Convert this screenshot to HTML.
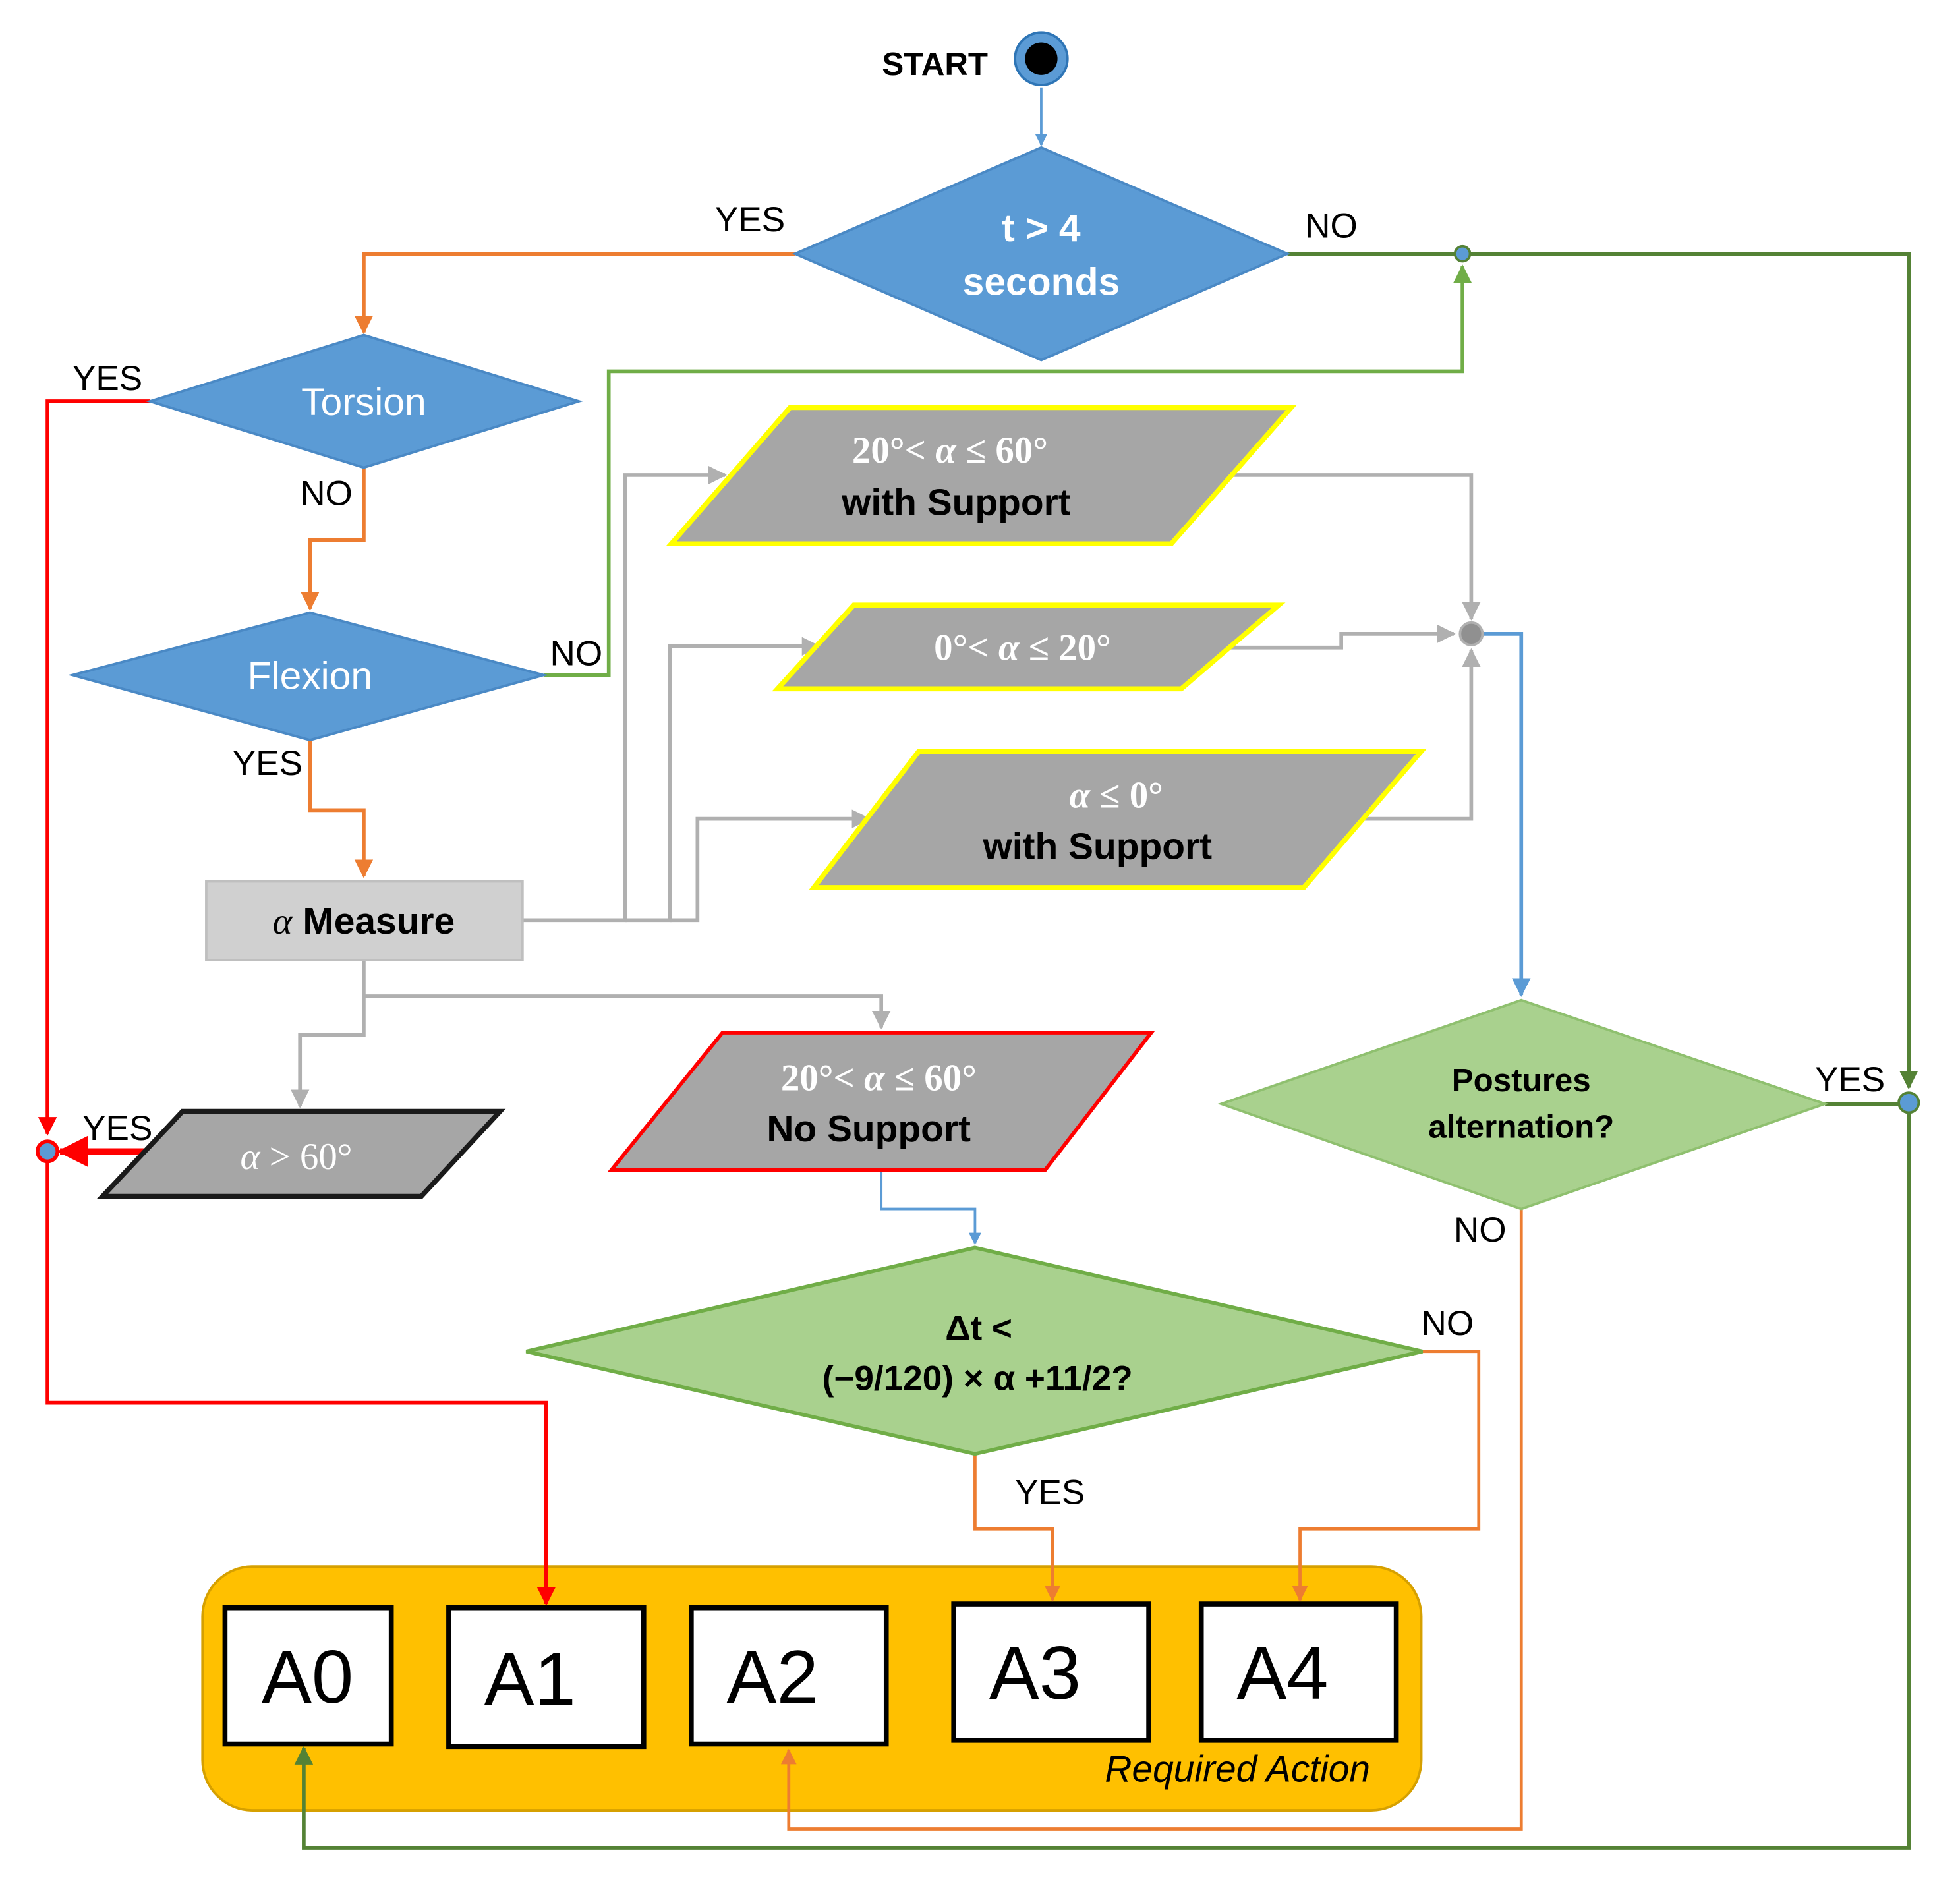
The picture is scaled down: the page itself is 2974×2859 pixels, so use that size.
<!DOCTYPE html>
<html><head><meta charset="utf-8"><style>html,body{margin:0;padding:0;background:#fff}svg{display:block}</style></head><body>
<svg width="2974" height="2859" viewBox="0 0 1568 1507" preserveAspectRatio="none" xmlns="http://www.w3.org/2000/svg" font-family="Liberation Sans, Arial, sans-serif">
<defs>
<marker id="ab" viewBox="0 0 10 10" refX="9" refY="5" markerWidth="5" markerHeight="5" orient="auto-start-reverse"><path d="M0,0L10,5L0,10z" fill="#5b9bd5"/></marker>
<marker id="ao" viewBox="0 0 10 10" refX="9" refY="5" markerWidth="5" markerHeight="5" orient="auto"><path d="M0,0L10,5L0,10z" fill="#ed7d31"/></marker>
<marker id="ag" viewBox="0 0 10 10" refX="9" refY="5" markerWidth="5" markerHeight="5" orient="auto"><path d="M0,0L10,5L0,10z" fill="#70ad47"/></marker>
<marker id="adg" viewBox="0 0 10 10" refX="9" refY="5" markerWidth="5" markerHeight="5" orient="auto"><path d="M0,0L10,5L0,10z" fill="#548235"/></marker>
<marker id="ar" viewBox="0 0 10 10" refX="9" refY="5" markerWidth="5" markerHeight="5" orient="auto"><path d="M0,0L10,5L0,10z" fill="#ff0000"/></marker>
<marker id="agr" viewBox="0 0 10 10" refX="9" refY="5" markerWidth="5" markerHeight="5" orient="auto"><path d="M0,0L10,5L0,10z" fill="#b0b0b0"/></marker>
</defs>
<rect x="162" y="1253" width="975" height="195" rx="40" fill="#ffc000" stroke="#d6a000" stroke-width="2"/>
<g fill="#fff" stroke="#000" stroke-width="4">
<rect x="180" y="1286" width="133" height="109"/>
<rect x="359" y="1286" width="156" height="111"/>
<rect x="553" y="1286" width="156" height="109"/>
<rect x="763" y="1283" width="156" height="109"/>
<rect x="961" y="1283" width="156" height="109"/>
</g>
<g font-size="60" text-anchor="middle">
<text x="246" y="1362">A0</text><text x="424" y="1364">A1</text><text x="618" y="1362">A2</text>
<text x="828" y="1359">A3</text><text x="1026" y="1359">A4</text>
</g>
<text x="990" y="1425" font-size="30" font-style="italic" text-anchor="middle">Required Action</text>
<g fill="none" stroke-width="3">
<line x1="833" y1="70" x2="833" y2="116" stroke="#5b9bd5" stroke-width="2" marker-end="url(#ab)"/>
<polyline points="636,203 291,203 291,266" stroke="#ed7d31" marker-end="url(#ao)"/>
<polyline points="291,374 291,432 248,432 248,487" stroke="#ed7d31" marker-end="url(#ao)"/>
<polyline points="248,592 248,648 291,648 291,701" stroke="#ed7d31" marker-end="url(#ao)"/>
<polyline points="1138,1081 1183,1081 1183,1223 1040,1223 1040,1280" stroke="#ed7d31" stroke-width="2.5" marker-end="url(#ao)"/>
<polyline points="780,1163 780,1223 842,1223 842,1280" stroke="#ed7d31" stroke-width="2.5" marker-end="url(#ao)"/>
<polyline points="1217,967 1217,1463 631,1463 631,1400" stroke="#ed7d31" stroke-width="2.5" marker-end="url(#ao)"/>
<polyline points="435,540 487,540 487,297 1170,297 1170,213" stroke="#70ad47" marker-end="url(#ag)"/>
<polyline points="1030,203 1527,203 1527,870" stroke="#548235" marker-end="url(#adg)"/>
<line x1="1460" y1="883" x2="1527" y2="883" stroke="#548235"/>
<polyline points="1527,883 1527,1478 243,1478 243,1398" stroke="#548235" marker-end="url(#adg)"/>
<polyline points="120,321 38,321 38,907" stroke="#ff0000" marker-end="url(#ar)"/>
<line x1="115" y1="921" x2="48" y2="921" stroke="#ff0000" stroke-width="5" marker-end="url(#ar)"/>
<polyline points="38,921 38,1122 437,1122 437,1283" stroke="#ff0000" marker-end="url(#ar)"/>
<g stroke="#b0b0b0">
<polyline points="418,736 500,736 500,380 580,380" marker-end="url(#agr)"/>
<polyline points="500,736 536,736 536,517 655,517" marker-end="url(#agr)"/>
<polyline points="536,736 558,736 558,655 695,655" marker-end="url(#agr)"/>
<polyline points="985,380 1177,380 1177,495" marker-end="url(#agr)"/>
<polyline points="980,518 1073,518 1073,507 1163,507" marker-end="url(#agr)"/>
<polyline points="1090,655 1177,655 1177,520" marker-end="url(#agr)"/>
<polyline points="291,768 291,797 705,797 705,822" marker-end="url(#agr)"/>
<polyline points="291,797 291,828 240,828 240,885" marker-end="url(#agr)"/>
</g>
<polyline points="1187,507 1217,507 1217,796" stroke="#5b9bd5" marker-end="url(#ab)"/>
<polyline points="705,936 705,967 780,967 780,995" stroke="#5b9bd5" stroke-width="2" marker-end="url(#ab)"/>
</g>
<circle cx="833" cy="47" r="21" fill="#5b9bd5" stroke="#2e75b6" stroke-width="2"/>
<circle cx="833" cy="47" r="13" fill="#000"/>
<text x="748" y="60" font-size="26" font-weight="bold" text-anchor="middle">START</text>
<polygon points="833,118 1030,203 833,288 636,203" fill="#5b9bd5" stroke="#4a89c5" stroke-width="2"/>
<text x="833" y="193" font-size="31" fill="#fff" font-weight="bold" text-anchor="middle">t &gt; 4</text>
<text x="833" y="236" font-size="31" fill="#fff" font-weight="bold" text-anchor="middle">seconds</text>
<polygon points="291,268 463,321 291,374 120,321" fill="#5b9bd5" stroke="#4a89c5" stroke-width="2"/>
<text x="291" y="332" font-size="31" fill="#fff" text-anchor="middle">Torsion</text>
<polygon points="248,490 435,540 248,592 58,540" fill="#5b9bd5" stroke="#4a89c5" stroke-width="2"/>
<text x="248" y="551" font-size="31" fill="#fff" text-anchor="middle">Flexion</text>
<polygon points="1217,800 1460,883 1217,967 977,883" fill="#a9d18e" stroke="#8fc06f" stroke-width="2"/>
<text x="1217" y="873" font-size="26" font-weight="bold" text-anchor="middle">Postures</text>
<text x="1217" y="910" font-size="26" font-weight="bold" text-anchor="middle">alternation?</text>
<polygon points="780,998 1138,1081 780,1163 421,1081" fill="#a9d18e" stroke="#70ad47" stroke-width="3"/>
<text x="783" y="1072" font-size="28" font-weight="bold" text-anchor="middle">Δt &lt;</text>
<text x="782" y="1112" font-size="28" font-weight="bold" text-anchor="middle">(−9/120) × α +11/2?</text>
<rect x="165" y="705" width="253" height="63" fill="#d0d0d0" stroke="#bfbfbf" stroke-width="2"/>
<text x="291" y="747" font-size="30" font-weight="bold" text-anchor="middle"><tspan font-family="Liberation Serif, serif" font-style="italic" font-weight="normal">α</tspan> Measure</text>
<polygon points="537,435 632,326 1033,326 937,435" fill="#a6a6a6" stroke="#ffff00" stroke-width="4"/>
<text x="760" y="370" font-size="30" fill="#fff" font-family="Liberation Serif, serif" font-weight="bold" text-anchor="middle">20°&lt; <tspan font-style="italic">α</tspan> ≤ 60°</text>
<text x="765" y="412" font-size="30" font-weight="bold" text-anchor="middle">with Support</text>
<polygon points="622,551 683,484 1023,484 945,551" fill="#a6a6a6" stroke="#ffff00" stroke-width="4"/>
<text x="818" y="528" font-size="30" fill="#fff" font-family="Liberation Serif, serif" font-weight="bold" text-anchor="middle">0°&lt; <tspan font-style="italic">α</tspan> ≤ 20°</text>
<polygon points="651,710 735,601 1137,601 1043,710" fill="#a6a6a6" stroke="#ffff00" stroke-width="4"/>
<text x="893" y="646" font-size="30" fill="#fff" font-family="Liberation Serif, serif" font-weight="bold" text-anchor="middle"><tspan font-style="italic">α</tspan> ≤ 0°</text>
<text x="878" y="687" font-size="30" font-weight="bold" text-anchor="middle">with Support</text>
<polygon points="82,957 146,889 400,889 337,957" fill="#a6a6a6" stroke="#1a1a1a" stroke-width="4"/>
<text x="237" y="935" font-size="30" fill="#fff" font-family="Liberation Serif, serif" text-anchor="middle"><tspan font-style="italic">α</tspan> &gt; 60°</text>
<polygon points="489,936 578,826 921,826 836,936" fill="#a6a6a6" stroke="#ff0000" stroke-width="3"/>
<text x="703" y="872" font-size="30" fill="#fff" font-family="Liberation Serif, serif" font-weight="bold" text-anchor="middle">20°&lt; <tspan font-style="italic">α</tspan> ≤ 60°</text>
<text x="695" y="913" font-size="30" font-weight="bold" text-anchor="middle">No Support</text>
<circle cx="1170" cy="203" r="6" fill="#5b9bd5" stroke="#548235" stroke-width="2"/>
<circle cx="1177" cy="507" r="9" fill="#909090" stroke="#b0b0b0" stroke-width="2"/>
<circle cx="1527" cy="882" r="8" fill="#5b9bd5" stroke="#548235" stroke-width="2"/>
<circle cx="38" cy="921" r="8" fill="#5b9bd5" stroke="#ff0000" stroke-width="3"/>
<g font-size="28" text-anchor="middle">
<text x="600" y="185">YES</text><text x="1065" y="190">NO</text>
<text x="86" y="312">YES</text><text x="261" y="404">NO</text>
<text x="461" y="532">NO</text><text x="214" y="620">YES</text>
<text x="94" y="912">YES</text><text x="1480" y="873">YES</text>
<text x="1184" y="993">NO</text><text x="1158" y="1068">NO</text>
<text x="840" y="1203">YES</text>
</g>
</svg>
</body></html>
